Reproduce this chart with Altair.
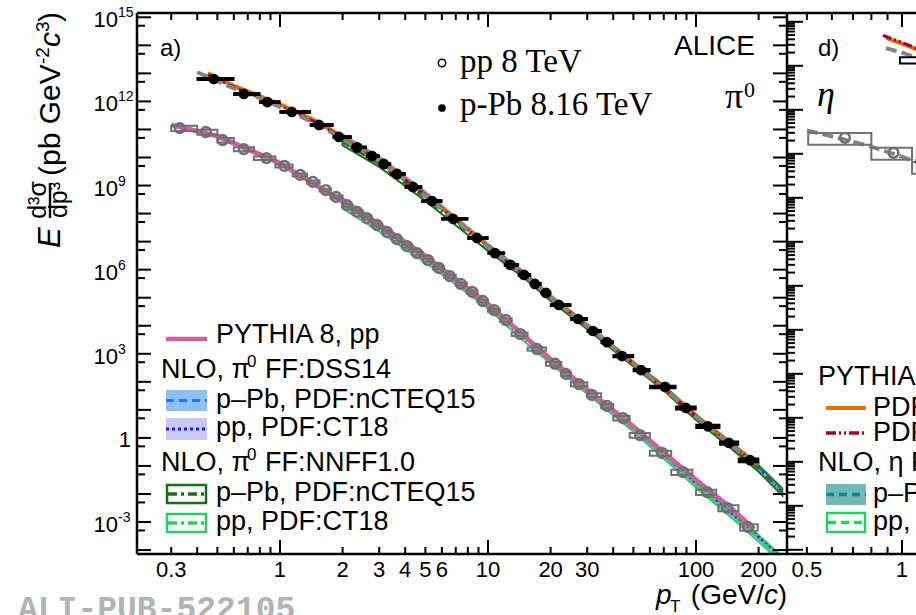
import altair as alt
import pandas as pd

# ---------------- pi0 cross sections (panel a) ----------------
# p-Pb, sqrt(sNN) = 8.16 TeV
ppb_pt = [0.48, 0.67, 0.87, 1.14, 1.54, 1.92, 2.35, 2.77, 3.16, 3.65,
          4.36, 5.38, 6.79, 8.85, 10.8, 12.8, 14.9, 16.8, 19.0, 21.9,
          27.1, 32.0, 37.3, 44.1, 54.4, 71.0, 89.5, 114, 144, 182]
ppb_lo = [0.4, 0.6, 0.8, 1.0, 1.4, 1.8, 2.2, 2.6, 3.0, 3.4,
          4.0, 4.8, 6, 8, 10, 12, 14, 16, 18, 20,
          25, 30, 35, 40, 50, 60, 80, 100, 130, 160]
ppb_hi = [0.6, 0.8, 1.0, 1.4, 1.8, 2.2, 2.6, 3.0, 3.4, 4.0,
          4.8, 6.0, 8, 10, 12, 14, 16, 18, 20, 25,
          30, 35, 40, 50, 60, 80, 100, 130, 160, 200]
ppb_val = [6.3e12, 1.84e12, 9.5e11, 4.2e11, 1.45e11, 5.4e10, 2.3e10, 1.12e10, 5.9e9, 2.6e9,
           8.9e8, 2.8e8, 6.5e7, 1.35e7, 3.9e6, 1.48e6, 6.5e5, 3.1e5, 1.48e5, 5.5e4,
           1.74e4, 6.5e3, 2.6e3, 830, 263, 66, 11.7, 2.6, 0.66, 0.16]
ppb_sys = [0.10, 0.09, 0.09, 0.08, 0.08, 0.08, 0.08, 0.08, 0.08, 0.08,
           0.08, 0.08, 0.08, 0.08, 0.08, 0.08, 0.09, 0.09, 0.09, 0.09,
           0.10, 0.10, 0.11, 0.11, 0.12, 0.13, 0.14, 0.15, 0.16, 0.17]

# pp, sqrt(s) = 8 TeV
pp_pt = [0.33, 0.44, 0.53, 0.67, 0.86, 1.05, 1.25, 1.44, 1.66, 1.86,
         2.1, 2.35, 2.62, 2.93, 3.27, 3.65, 4.08, 4.56, 5.15, 5.8,
         6.55, 7.4, 8.4, 9.45, 10.7, 12.2, 14.3, 17.2, 21.0, 23.7,
         27.4, 31.6, 37.3, 44.6, 53.8, 68.7, 86.6, 113, 141, 178]
pp_lo = [0.30, 0.40, 0.50, 0.60, 0.75, 0.95, 1.15, 1.35, 1.55, 1.75,
         2.0, 2.2, 2.5, 2.75, 3.1, 3.45, 3.85, 4.3, 4.85, 5.45,
         6.15, 7.0, 7.9, 8.9, 10, 11.4, 13, 15.5, 19, 22.5,
         25, 30, 35, 40, 48, 60, 76, 100, 128, 163]
pp_hi = [0.40, 0.50, 0.60, 0.75, 0.95, 1.15, 1.35, 1.55, 1.75, 2.0,
         2.2, 2.5, 2.75, 3.1, 3.45, 3.85, 4.3, 4.85, 5.45, 6.15,
         7.0, 7.9, 8.9, 10, 11.4, 13, 15.5, 19, 22.5, 25,
         30, 35, 40, 48, 60, 76, 96, 125, 160, 198]
pp_val = [1.12e11, 8.1e10, 4.2e10, 2.0e10, 9.5e9, 5.0e9, 2.4e9, 1.35e9, 6.9e8, 3.9e8,
          2.0e8, 1.15e8, 6.9e7, 3.9e7, 2.2e7, 1.23e7, 6.9e6, 3.9e6, 2.2e6, 1.15e6,
          5.9e5, 3.1e5, 1.6e5, 7.6e4, 3.6e4, 1.6e4, 5.0e3, 1.48e3, 440, 190,
          83, 34, 13.8, 5.1, 1.26, 0.29, 0.060, 0.0117, 3.2e-3, 6.6e-4]
pp_sys = [0.22, 0.20, 0.18, 0.16, 0.14, 0.12, 0.12, 0.12, 0.12, 0.12,
          0.12, 0.12, 0.12, 0.12, 0.12, 0.12, 0.12, 0.12, 0.12, 0.12,
          0.12, 0.12, 0.12, 0.12, 0.13, 0.13, 0.14, 0.14, 0.15, 0.15,
          0.16, 0.16, 0.17, 0.18, 0.19, 0.20, 0.21, 0.22, 0.24, 0.26]

# fit through the p-Pb spectrum
fit_pt = [0.4, 0.6, 0.8, 1, 1.5, 2, 3, 4, 6, 10, 15, 20, 30, 50, 70, 100, 150, 200]
fit_val = [1.1e13, 2.9e12, 1.3e12, 6.3e11, 1.55e11, 4.6e10, 7.4e9, 1.5e9, 1.45e8, 6.5e6,
           6.5e5, 1.0e5, 9.8e3, 440, 63, 5.6, 0.51, 0.11]

# NLO pQCD
nlo_pt = [2, 3, 5, 7, 10, 15, 20, 30, 50, 70, 100, 150, 200, 260]
nlo_unc = [0.30, 0.28, 0.25, 0.22, 0.20, 0.20, 0.20, 0.20, 0.20, 0.22, 0.24, 0.27, 0.30, 0.33]
dss_ppb = [5.8e10, 9.3e9, 5.4e8, 6.8e7, 7.8e6, 7.6e5, 1.15e5, 1.1e4, 480, 68, 5.9, 0.51, 0.087, 0.013]
nnff_ppb = [3.5e10, 5.9e9, 3.5e8, 4.7e7, 5.6e6, 5.8e5, 9.1e4, 9.1e3, 420, 60, 5.4, 0.48, 0.081, 0.0117]
dss_pp = [3.1e8, 4.2e7, 3.2e6, 4.9e5, 6.3e4, 3.9e3, 650, 51, 2.3, 0.25, 0.024, 1.9e-3, 2.9e-4, 4.8e-5]
nnff_pp = [2.0e8, 2.9e7, 2.2e6, 3.6e5, 4.9e4, 3.2e3, 540, 44, 2.0, 0.22, 0.021, 1.66e-3, 2.6e-4, 4.3e-5]

# PYTHIA 8
py_pp_pt = [0.3, 0.5, 1, 2, 3, 5, 10, 20, 30, 50, 70, 100, 150, 190]
py_pp = [1.45e11, 5.8e10, 6.3e9, 2.75e8, 3.7e7, 2.8e6, 5.9e4, 630, 52, 2.5, 0.30, 0.032, 2.75e-3, 5.6e-4]
py_ppb_pt = [0.45, 0.6, 1, 1.5, 2, 3, 5, 10, 20, 50, 100, 200]
py_ppb_a = [1.0e13, 3.6e12, 7.9e11, 1.95e11, 5.5e10, 8.5e9, 4.8e8, 7.1e6, 1.07e5, 470, 6.3, 0.105]
py_ppb_b = [8.9e12, 3.2e12, 7.1e11, 1.74e11, 5.0e10, 7.9e9, 4.6e8, 6.8e6, 1.05e5, 460, 6.0, 0.10]

# ---------------- eta cross sections (panel d) ----------------
eta_pp_pt = [0.66, 0.94, 1.2]
eta_pp_lo = [0.505, 0.80, 1.076]
eta_pp_hi = [0.80, 1.076, 1.4]
eta_pp_val = [2.3e9, 1.05e9, 5.0e8]
eta_pp_sys = [0.30, 0.30, 0.30]
eta_pp_fit_pt = [0.5, 0.66, 0.8, 0.94, 1.2]
eta_pp_fit = [3.4e9, 2.1e9, 1.45e9, 1.0e9, 5.5e8]
eta_ppb_pt = [1.2]
eta_ppb_lo = [0.985]
eta_ppb_hi = [1.45]
eta_ppb_val = [1.35e11]
eta_ppb_sys = [0.16]
eta_py_pt_a = [0.89, 1.0, 1.2]
eta_py_a = [4.3e11, 3.2e11, 1.9e11]
eta_py_pt_b = [0.87, 1.0, 1.2]
eta_py_b = [4.9e11, 3.4e11, 2.0e11]
eta_ppb_fit_pt = [0.89, 1.0, 1.2]
eta_ppb_fit = [2.5e11, 2.0e11, 1.3e11]

# ---------------- layout ----------------
W, H = 650, 541      # panel a plot area
DX = 129             # visible strip of panel d
FONT = "Liberation Sans"
SERIF = "Liberation Serif"
GREY = "#707070"


def logscale(lo, hi):
    return alt.Scale(type="log", domain=[lo, hi], nice=False)


XA = logscale(0.2054, 273.8)
YA = logscale(7.244e-5, 1.4223e15)
XD = logscale(0.003794, 0.4326)
YD = logscale(0.8035, 1.585e12)


def X(f, sc):
    return alt.X(f"{f}:Q", scale=sc, axis=None)


def Y(f, sc):
    return alt.Y(f"{f}:Q", scale=sc, axis=None)


one = pd.DataFrame({"k": [0]})
layers = []


def band(pt, val, unc, xs, ys, **mk):
    df = pd.DataFrame({"pt": pt,
                       "lo": [v / (1 + u) for v, u in zip(val, unc)],
                       "hi": [v * (1 + u) for v, u in zip(val, unc)]})
    return alt.Chart(df).mark_area(**mk).encode(x=X("pt", xs), y=Y("lo", ys), y2=alt.Y2("hi"))


def curve(pt, val, xs, ys, **mk):
    df = pd.DataFrame({"pt": pt, "y": val})
    return alt.Chart(df).mark_line(**mk).encode(x=X("pt", xs), y=Y("y", ys))


def points_df(pt, lo, hi, val, sys):
    return pd.DataFrame({"pt": pt, "lo": lo, "hi": hi, "y": val,
                         "ylo": [v * (1 - s) for v, s in zip(val, sys)],
                         "yhi": [v * (1 + s) for v, s in zip(val, sys)]})


def txt(s, x, y, size, align="left", baseline="middle", font=FONT, **kw):
    return alt.Chart(pd.DataFrame({"t": [s]})).mark_text(
        align=align, baseline=baseline, fontSize=size, font=font, **kw
    ).encode(x=alt.value(x), y=alt.value(y), text="t:N")


def hline(x0, x1, y, color, w, dash=None):
    mk = dict(color=color, strokeWidth=w)
    if dash:
        mk["strokeDash"] = dash
    return alt.Chart(one).mark_rule(**mk).encode(x=alt.value(x0), x2=alt.value(x1), y=alt.value(y))


def vline(x, y0, y1, w=2.5):
    return alt.Chart(one).mark_rule(color="black", strokeWidth=w).encode(
        x=alt.value(x), y=alt.value(y0), y2=alt.value(y1))


def sbox(x0, x1, y0, y1, **mk):
    return alt.Chart(one).mark_rect(**mk).encode(
        x=alt.value(x0), x2=alt.value(x1), y=alt.value(y0), y2=alt.value(y1))


def yticks(vals, sc, x0, x1):
    return alt.Chart(pd.DataFrame({"v": vals})).mark_rule(color="black", strokeWidth=2).encode(
        y=Y("v", sc), x=alt.value(x0), x2=alt.value(x1))


def xticks(vals, sc, y0, y1):
    return alt.Chart(pd.DataFrame({"v": vals})).mark_rule(color="black", strokeWidth=2).encode(
        x=X("v", sc), y=alt.value(y0), y2=alt.value(y1))


# ---- panel a: theory ----
layers.append(band(nlo_pt, dss_ppb, nlo_unc, XA, YA, color="#74a9f0", opacity=0.95, clip=True))
layers.append(band(nlo_pt, dss_pp, nlo_unc, XA, YA, color="#8e8ef8", opacity=0.9, clip=True))
layers.append(band(nlo_pt, nnff_ppb, nlo_unc, XA, YA, fill="white", fillOpacity=0,
                   stroke="#1a6e1a", strokeWidth=2, clip=True))
layers.append(band(nlo_pt, nnff_pp, nlo_unc, XA, YA, fill="white", fillOpacity=0,
                   stroke="#2ecc66", strokeWidth=2, clip=True))
layers.append(curve(nlo_pt, dss_ppb, XA, YA, color="#1f78ff", strokeWidth=2.5, strokeDash=[8, 5], clip=True))
layers.append(curve(nlo_pt, dss_pp, XA, YA, color="#1a1ae6", strokeWidth=2.5, strokeDash=[2, 3], clip=True))
layers.append(curve(nlo_pt, nnff_ppb, XA, YA, color="#1a6e1a", strokeWidth=2.5, strokeDash=[8, 4, 2, 4], clip=True))
layers.append(curve(nlo_pt, nnff_pp, XA, YA, color="#2ecc66", strokeWidth=2.5, strokeDash=[8, 4, 2, 4], clip=True))
layers.append(curve(py_pp_pt, py_pp, XA, YA, color="#d0609a", strokeWidth=5, clip=True))
layers.append(curve(py_ppb_pt, py_ppb_a, XA, YA, color="#e07000", strokeWidth=4, clip=True))
layers.append(curve(py_ppb_pt, py_ppb_b, XA, YA, color="#a0003c", strokeWidth=3,
                    strokeDash=[9, 3, 2, 3, 2, 3], clip=True))
layers.append(curve(fit_pt, fit_val, XA, YA, color="#858585", strokeWidth=4, strokeDash=[11, 5], clip=True))

# ---- panel a: data ----
pp_df = points_df(pp_pt, pp_lo, pp_hi, pp_val, pp_sys)
ppb_df = points_df(ppb_pt, ppb_lo, ppb_hi, ppb_val, ppb_sys)
layers.append(alt.Chart(pp_df).mark_rect(fill="white", fillOpacity=0, stroke=GREY, strokeWidth=2, clip=True).encode(
    x=X("lo", XA), x2=alt.X2("hi"), y=Y("ylo", YA), y2=alt.Y2("yhi")))
layers.append(alt.Chart(pp_df).mark_point(shape="circle", filled=False, size=95, strokeWidth=2.6,
                                          color=GREY, opacity=1, clip=True).encode(x=X("pt", XA), y=Y("y", YA)))
layers.append(alt.Chart(ppb_df).mark_rect(fill="white", fillOpacity=0, stroke="black", strokeWidth=1.5, clip=True).encode(
    x=X("lo", XA), x2=alt.X2("hi"), y=Y("ylo", YA), y2=alt.Y2("yhi")))
layers.append(alt.Chart(ppb_df).mark_rule(color="black", strokeWidth=3.5, clip=True).encode(
    x=X("lo", XA), x2=alt.X2("hi"), y=Y("y", YA)))
layers.append(alt.Chart(ppb_df).mark_circle(size=115, color="black", opacity=1, clip=True).encode(
    x=X("pt", XA), y=Y("y", YA)))

# ---- panel d: eta (visible strip) ----
eta_pp_df = points_df(eta_pp_pt, eta_pp_lo, eta_pp_hi, eta_pp_val, eta_pp_sys)
eta_ppb_df = points_df(eta_ppb_pt, eta_ppb_lo, eta_ppb_hi, eta_ppb_val, eta_ppb_sys)
layers.append(curve(eta_py_pt_a, eta_py_a, XD, YD, color="#e07000", strokeWidth=4))
layers.append(curve(eta_py_pt_b, eta_py_b, XD, YD, color="#a0003c", strokeWidth=3, strokeDash=[9, 3, 2, 3, 2, 3]))
layers.append(curve(eta_ppb_fit_pt, eta_ppb_fit, XD, YD, color="#858585", strokeWidth=4, strokeDash=[11, 5]))
layers.append(curve(eta_pp_fit_pt, eta_pp_fit, XD, YD, color="#858585", strokeWidth=4, strokeDash=[11, 5]))
layers.append(alt.Chart(eta_pp_df).mark_rect(fill="white", fillOpacity=0, stroke=GREY, strokeWidth=2).encode(
    x=X("lo", XD), x2=alt.X2("hi"), y=Y("ylo", YD), y2=alt.Y2("yhi")))
layers.append(alt.Chart(eta_pp_df).mark_point(shape="circle", filled=False, size=95, strokeWidth=2.6,
                                              color=GREY, opacity=1).encode(x=X("pt", XD), y=Y("y", YD)))
layers.append(alt.Chart(eta_ppb_df).mark_rect(fill="white", fillOpacity=0, stroke="black", strokeWidth=2).encode(
    x=X("lo", XD), x2=alt.X2("hi"), y=Y("ylo", YD), y2=alt.Y2("yhi")))
layers.append(alt.Chart(eta_ppb_df).mark_circle(size=115, color="black", opacity=1).encode(
    x=X("pt", XD), y=Y("y", YD)))

# ---- frames and ticks ----
layers += [
    vline(0, 0, H), vline(W, 0, H),
    alt.Chart(one).mark_rule(color="black", strokeWidth=2.5).encode(
        y=alt.value(0), x=alt.value(0), x2=alt.value(W + DX)),
    alt.Chart(one).mark_rule(color="black", strokeWidth=2.5).encode(
        y=alt.value(H), x=alt.value(0), x2=alt.value(W + DX)),
]
ya_major = [10.0 ** k for k in range(-4, 16)]
ya_minor = [5 * 10.0 ** k for k in range(-4, 15)]
xa_major = [1, 10, 100]
xa_minor = [0.3, 0.4, 0.5, 0.6, 0.7, 0.8, 0.9, 2, 3, 4, 5, 6, 7, 8, 9,
            20, 30, 40, 50, 60, 70, 80, 90, 200]
yd_major = [10.0 ** k for k in range(0, 13)]
yd_minor = [m * 10.0 ** k for k in range(0, 12) for m in range(2, 10)]
xd_major = [1]
xd_minor = [0.5, 0.6, 0.7, 0.8, 0.9]
layers += [
    yticks(ya_major, YA, 0, 14), yticks(ya_minor, YA, 0, 8),
    yticks(ya_major, YA, W - 14, W), yticks(ya_minor, YA, W - 8, W),
    xticks(xa_major, XA, 0, 14), xticks(xa_minor, XA, 0, 7),
    xticks(xa_major, XA, H - 14, H), xticks(xa_minor, XA, H - 7, H),
    yticks(yd_major, YD, W, W + 16), yticks(yd_minor, YD, W, W + 8),
    xticks(xd_major, XD, 0, 14), xticks(xd_minor, XD, 0, 7),
    xticks(xd_major, XD, H - 14, H), xticks(xd_minor, XD, H - 7, H),
]

# ---- tick labels ----
ylab = pd.DataFrame({"v": [1e15, 1e12, 1e9, 1e6, 1e3, 1e-3],
                     "b": ["10"] * 6,
                     "e": ["15", "12", "9", "6", "3", "-3"]})
layers.append(alt.Chart(ylab).mark_text(align="right", baseline="middle", fontSize=22, font=FONT, dy=3).encode(
    y=Y("v", YA), x=alt.value(-19), text="b:N"))
layers.append(alt.Chart(ylab).mark_text(align="left", baseline="middle", fontSize=14, font=FONT, dy=-4).encode(
    y=Y("v", YA), x=alt.value(-19), text="e:N"))
layers.append(alt.Chart(pd.DataFrame({"v": [1.0], "t": ["1"]})).mark_text(
    align="right", baseline="middle", fontSize=22, font=FONT, dy=2).encode(
    y=Y("v", YA), x=alt.value(-6), text="t:N"))
xlab_a = pd.DataFrame({"v": [0.3, 1, 2, 3, 4, 5, 6, 10, 20, 30, 100, 200],
                       "t": ["0.3", "1", "2", "3", "4", "5", "6", "10", "20", "30", "100", "200"]})
layers.append(alt.Chart(xlab_a).mark_text(align="center", baseline="top", fontSize=22, font=FONT).encode(
    x=X("v", XA), y=alt.value(H + 6), text="t:N"))
xlab_d = pd.DataFrame({"v": [0.5, 1], "t": ["0.5", "1"]})
layers.append(alt.Chart(xlab_d).mark_text(align="center", baseline="top", fontSize=22, font=FONT).encode(
    x=X("v", XD), y=alt.value(H + 6), text="t:N"))

# ---- axis titles ----
layers += [
    txt("E", -77, 235, 31, baseline="alphabetic", angle=270, fontStyle="italic"),
    txt("d³σ", -91, 187, 25, align="center", baseline="alphabetic", angle=270),
    txt("dp³", -70, 187, 25, align="center", baseline="alphabetic", angle=270),
    alt.Chart(one).mark_rule(color="black", strokeWidth=2.4).encode(
        x=alt.value(-87), y=alt.value(170), y2=alt.value(205)),
    txt("(pb GeV", -77, 163, 30, baseline="alphabetic", angle=270),
    txt("-2", -88, 51, 19, baseline="alphabetic", angle=270),
    txt("c", -77, 34, 30, baseline="alphabetic", angle=270, fontStyle="italic"),
    txt("3", -88, 19, 19, baseline="alphabetic", angle=270),
    txt(")", -77, 9, 30, baseline="alphabetic", angle=270),
    txt("p", 519, 591, 28, baseline="alphabetic", fontStyle="italic"),
    txt("T", 533, 599, 17, baseline="alphabetic"),
    txt("(GeV/", 627, 591, 28, align="right", baseline="alphabetic"),
    txt("c", 641, 591, 28, align="right", baseline="alphabetic", fontStyle="italic"),
    txt(")", 650, 591, 28, align="right", baseline="alphabetic"),
]

# ---- panel labels ----
layers += [
    txt("a)", 23, 43, 24, baseline="alphabetic"),
    txt("ALICE", 618, 42, 28, align="right", baseline="alphabetic"),
    txt("π", 588, 95, 36, baseline="alphabetic", font=SERIF),
    txt("0", 618, 84, 22, align="right", baseline="alphabetic", font=SERIF),
    txt("d)", 681, 43, 24, baseline="alphabetic"),
    txt("η", 680, 93, 36, baseline="alphabetic", font=SERIF, fontStyle="italic"),
    txt("pp 8 TeV", 323, 59, 33, baseline="alphabetic", font=SERIF),
    txt("p-Pb 8.16 TeV", 323, 102, 33, baseline="alphabetic", font=SERIF),
    alt.Chart(one).mark_point(shape="circle", filled=False, size=55, strokeWidth=1.5, color="black",
                              opacity=1).encode(x=alt.value(305), y=alt.value(50)),
    alt.Chart(one).mark_circle(size=60, color="black", opacity=1).encode(x=alt.value(305), y=alt.value(95)),
    txt("ALI-PUB-522105", -119, 606, 33, baseline="alphabetic", font="Liberation Mono",
        fontWeight="bold", color="#b3b3b3"),
]

# ---- legend, panel a ----
layers += [
    hline(29, 70, 326, "#d0609a", 4.5),
    txt("PYTHIA 8, pp", 79, 322, 27),
    txt("NLO, π", 24, 357, 27), txt("0", 110, 349, 17), txt("FF:DSS14", 128, 357, 27),
    sbox(29, 70, 377, 398, color="#8fc0f5"), hline(29, 70, 387.5, "#1f78ff", 3, [8, 5]),
    txt("p–Pb, PDF:nCTEQ15", 79, 387, 27),
    sbox(29, 70, 405, 427, color="#c8c8fa"), hline(29, 70, 416, "#1a1ae6", 3, [3, 3]),
    txt("pp, PDF:CT18", 79, 415, 27),
    txt("NLO, π", 24, 450, 27), txt("0", 110, 442, 17), txt("FF:NNFF1.0", 128, 450, 27),
    sbox(30, 69, 472, 490, fill="white", fillOpacity=0, stroke="#1a6e1a", strokeWidth=2.5),
    hline(31, 68, 481, "#1a6e1a", 3.5, [9, 4, 3, 4]),
    txt("p–Pb, PDF:nCTEQ15", 79, 480, 27),
    sbox(30, 69, 501, 519, fill="white", fillOpacity=0, stroke="#2ecc66", strokeWidth=2.5),
    hline(31, 68, 510, "#2ecc66", 3.5, [9, 4, 3, 4]),
    txt("pp, PDF:CT18", 79, 509, 27),
]

# ---- legend, panel d ----
layers += [
    txt("PYTHIA 8, p–Pb", 681, 364, 27),
    hline(689, 729, 395, "#e07000", 4),
    txt("PDF:EPPS16", 736, 395, 27),
    hline(689, 729, 420, "#a0003c", 3.5, [10, 3, 2, 3, 2, 3]),
    txt("PDF:nCTEQ15", 736, 420, 27),
    txt("NLO, η FF:AESSS", 681, 450, 27),
    sbox(689, 729, 471, 492, color="#74b7b7"), hline(689, 729, 481.5, "#008b8b", 3.5, [8, 5]),
    txt("p–Pb, PDF:nCTEQ15", 736, 481, 27),
    sbox(690, 728, 500, 519, fill="white", fillOpacity=0, stroke="#2ecc66", strokeWidth=2.5),
    hline(691, 727, 509.5, "#2ecc66", 3.5, [8, 5]),
    txt("pp, PDF:CT18", 736, 509, 27),
]

chart = alt.layer(*layers).resolve_scale(x="independent", y="independent").properties(
    width=W, height=H,
    autosize=alt.AutoSizeParams(type="none"),
    padding={"left": 137, "top": 13, "right": DX, "bottom": 61},
    background="white",
).configure_view(strokeWidth=0)

chart.save("out.html", embed_options={"renderer": "svg", "actions": False})
